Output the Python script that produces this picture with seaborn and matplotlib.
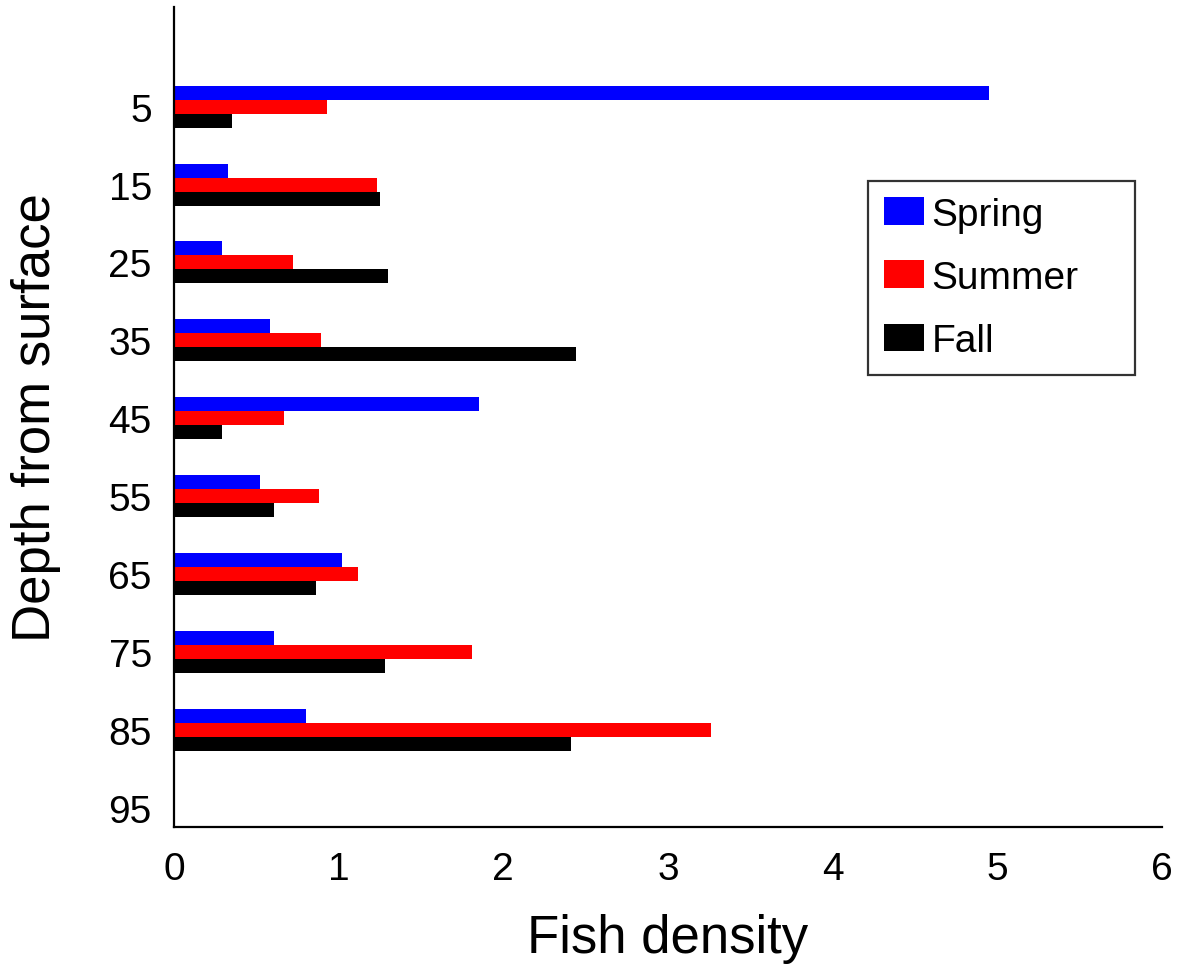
import matplotlib
matplotlib.use("Agg")
import matplotlib.pyplot as plt
import seaborn as sns
import pandas as pd

# Depth bins (surface distance) and fish density per season
depths = ["5", "15", "25", "35", "45", "55", "65", "75", "85", "95"]
spring = [4.95, 0.33, 0.29, 0.58, 1.85, 0.52, 1.02, 0.61, 0.80]
summer = [0.93, 1.23, 0.72, 0.89, 0.67, 0.88, 1.12, 1.81, 3.26]
fall = [0.35, 1.25, 1.30, 2.44, 0.29, 0.61, 0.86, 1.28, 2.41]
seasons = ["Spring", "Summer", "Fall"]
season_colors = ["#0000ff", "#ff0000", "#000000"]

rows = []
for season, values in zip(seasons, [spring, summer, fall]):
    for depth, v in zip(depths, values):
        rows.append({"Depth": depth, "Season": season, "Density": v})
df = pd.DataFrame(rows)

sns.set_theme(style="white")
plt.rcParams["font.family"] = ["Liberation Sans", "DejaVu Sans"]
plt.rcParams["text.color"] = "black"

W, H = 1186, 970
fig = plt.figure(figsize=(W / 100, H / 100), dpi=100)
ax = fig.add_axes([174 / W, 1 - 828 / H, (1162 - 174) / W, (828 - 8) / H])

sns.barplot(
    data=df, x="Density", y="Depth", hue="Season", order=depths,
    hue_order=seasons, palette=season_colors, orient="h",
    width=0.54, saturation=1, errorbar=None, ax=ax, linewidth=0,
)

ax.set_xlim(0, 6)
ax.set_ylim(9.25, -1.28)
ax.set_xticks(range(0, 7))
ax.tick_params(axis="both", length=0, labelsize=28, colors="black")
ax.tick_params(axis="x", pad=17)
ax.tick_params(axis="y", pad=16)

for side in ["top", "right"]:
    ax.spines[side].set_visible(False)
for side in ["left", "bottom"]:
    ax.spines[side].set_color("black")
    ax.spines[side].set_linewidth(1.6)

ax.set_xlabel("Fish density", fontsize=38, color="black")
ax.set_ylabel("Depth from surface", fontsize=38, color="black")
ax.xaxis.set_label_coords(0.5, -0.105)
ax.yaxis.set_label_coords(-0.1144, 0.5)

ax.legend_.remove()
leg = fig.legend(
    *ax.get_legend_handles_labels(),
    loc="upper left",
    bbox_to_anchor=(868 / W, 1 - 372 / H, (1135 - 868) / W, (372 - 182) / H),
    mode="expand",
    fontsize=28, labelcolor="black", frameon=True, fancybox=False,
    edgecolor="black",
    handlelength=1.05, handleheight=0.72, handletextpad=0.18,
    labelspacing=0.7, borderpad=0.4, borderaxespad=0,
)
leg.get_frame().set_linewidth(1.6)
leg.get_frame().set_edgecolor("black")

fig.savefig("out.png", dpi=100)
